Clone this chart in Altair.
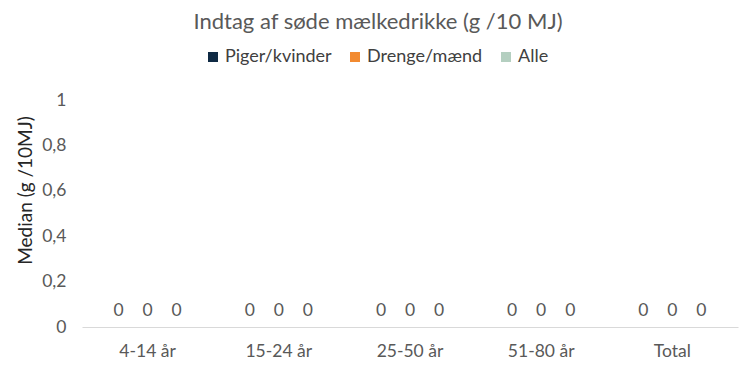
import altair as alt
import pandas as pd

categories = ["4-14 år", "15-24 år", "25-50 år", "51-80 år", "Total"]
series = ["Piger/kvinder", "Drenge/mænd", "Alle"]
colors = ["#0f2a44", "#f28a30", "#b4cfc0"]
values_piger = [0, 0, 0, 0, 0]
values_drenge = [0, 0, 0, 0, 0]
values_alle = [0, 0, 0, 0, 0]

rows = []
for s, vals in zip(series, [values_piger, values_drenge, values_alle]):
    for c, v in zip(categories, vals):
        rows.append({"Gruppe": c, "Serie": s, "Værdi": v})
df = pd.DataFrame(rows)

FONT = "Lato"
GREY = "#595959"

x = alt.X("Gruppe:N", sort=categories, title=None,
          scale=alt.Scale(paddingInner=0, paddingOuter=0),
          axis=alt.Axis(labelAngle=0, ticks=False, domainColor="#d9d9d9",
                        domainWidth=1, labelPadding=15, labelFontSize=17.5,
                        labelColor=GREY, labelFont=FONT))
xo = alt.XOffset("Serie:N", sort=series,
                 scale=alt.Scale(paddingInner=0, paddingOuter=0.76))
y = alt.Y("Værdi:Q", title="Median (g /10MJ)",
          scale=alt.Scale(domain=[0, 1]),
          axis=alt.Axis(values=[0, 0.2, 0.4, 0.6, 0.8, 1], grid=False,
                        domain=False, ticks=False, labelPadding=16,
                        labelFontSize=17.5, labelColor=GREY, labelFont=FONT,
                        labelExpr="replace(format(datum.value, '.1~f'), '.', ',')",
                        titleFontSize=19, titleFontWeight="normal",
                        titleColor="#262626", titleFont=FONT, titlePadding=6,
                        titleY=90))

color = alt.Color("Serie:N", sort=series,
                  scale=alt.Scale(domain=series, range=colors),
                  legend=alt.Legend(title=None, orient="none", direction="horizontal",
                                    columns=3, legendX=122, legendY=-52,
                                    symbolType="square", symbolSize=100,
                                    symbolStrokeWidth=0, columnPadding=14,
                                    labelFontSize=18, labelColor="#404040",
                                    labelFont=FONT, labelOffset=3))

bars = alt.Chart(df).mark_bar().encode(x=x, xOffset=xo, y=y, color=color)
labels = alt.Chart(df).mark_text(baseline="bottom", dy=-7, fontSize=17.5,
                                 color=GREY, font=FONT).encode(
    x=x, xOffset=xo, y=y, text=alt.Text("Værdi:Q"))

chart = (bars + labels).properties(
    width=656, height=227,
    title=alt.TitleParams("Indtag af søde mælkedrikke (g /10 MJ)", fontSize=22,
                          fontWeight="normal", color=GREY, font=FONT,
                          anchor="middle", dx=-32, offset=14),
    autosize=alt.AutoSizeParams(type="none"),
    padding={"left": 82, "top": 100, "right": 12, "bottom": 43},
).configure(background="white").configure_view(stroke=None)

chart.save("out.html", embed_options={"renderer": "svg", "actions": False})
